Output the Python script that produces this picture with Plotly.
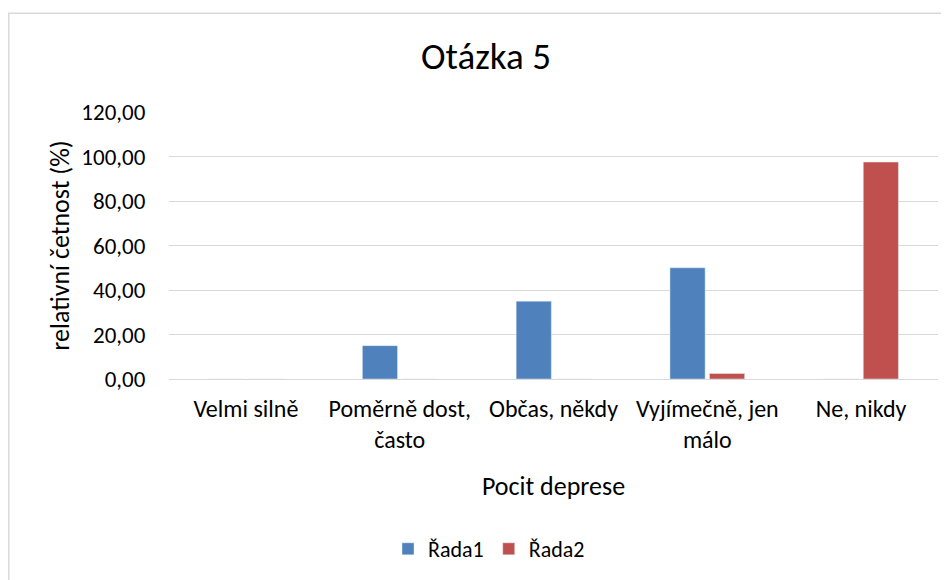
import plotly.graph_objects as go

categories = ["Velmi silně", "Poměrně dost,<br>často", "Občas, někdy", "Vyjímečně, jen<br>málo", "Ne, nikdy"]
rada1 = [0, 15, 35, 50, 0]
rada2 = [0, 0, 0, 2.5, 97.5]
series_names = ["Řada1", "Řada2"]
y_ticks = [0, 20, 40, 60, 80, 100, 120]
y_tick_labels = ["0,00", "20,00", "40,00", "60,00", "80,00", "100,00", "120,00"]

FONT = "Carlito, Calibri, Lato, sans-serif"

fig = go.Figure()
fig.add_trace(go.Bar(x=categories, y=rada1, name=series_names[0], marker_color="#4F81BD"))
fig.add_trace(go.Bar(x=categories, y=rada2, name=series_names[1], marker_color="#C0504D"))

OFF = 8  # default page body margin
W, H = 949 - OFF, 580 - OFF
L, T = 169 - OFF, 112 - OFF
R = W - (938 - OFF)
B = H - (380 - OFF)
pw = W - L - R
ph = H - T - B

def px_x(p):
    return (p - OFF - L) / pw

def px_y(p):
    return (H - B - (p - OFF)) / ph

fig.update_layout(
    width=W, height=H,
    margin=dict(l=L, r=R, t=T, b=B),
    paper_bgcolor="white", plot_bgcolor="white",
    font=dict(family=FONT, color="#000000", size=21),
    title=dict(text="Otázka 5", x=(486 - OFF) / W, xanchor="center", y=1 - (56 - OFF) / H, yanchor="middle",
               font=dict(size=37, family=FONT)),
    barmode="group",
    bargap=0.486,
    bargroupgap=0.11,
    showlegend=True,
    legend=dict(orientation="h", x=px_x(489), xanchor="center", y=px_y(549), yanchor="middle",
                font=dict(size=22), itemwidth=30, traceorder="normal"),
    xaxis=dict(
        title=dict(text="Pocit deprese", font=dict(size=26), standoff=23),
        showgrid=False, showline=False,
        ticks="outside", ticklen=8, tickcolor="rgba(0,0,0,0)",
        tickfont=dict(size=24),
    ),
    yaxis=dict(
        title=dict(text="relativní četnost (%)", font=dict(size=26), standoff=4),
        range=[0, 120], tickvals=y_ticks, ticktext=y_tick_labels,
        showgrid=True, gridcolor="#d9d9d9", gridwidth=1,
        zeroline=True, zerolinecolor="#d9d9d9", zerolinewidth=1,
        ticks="outside", ticklen=18, tickcolor="rgba(0,0,0,0)",
        tickfont=dict(size=23), showline=False,
    ),
    shapes=[dict(type="rect", xref="paper", yref="paper",
                 x0=px_x(8.8), x1=px_x(980), y0=px_y(620), y1=px_y(13),
                 line=dict(color="#d9d9d9", width=1.5), fillcolor="rgba(0,0,0,0)", layer="below")],
)

fig.write_html("out.html")
